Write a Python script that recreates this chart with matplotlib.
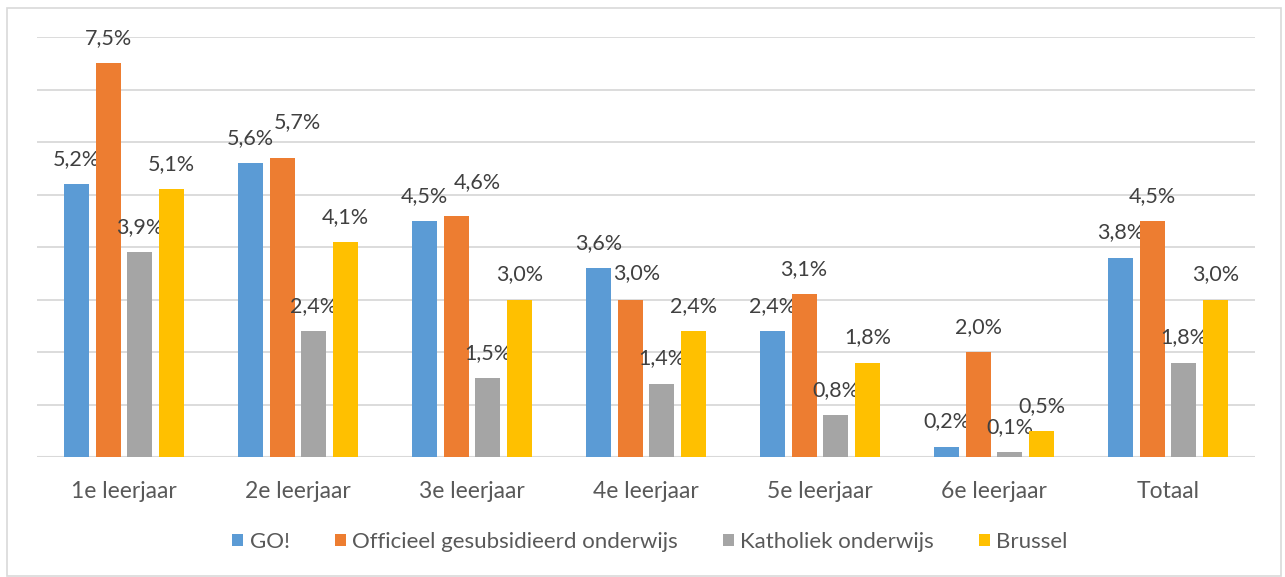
import matplotlib
matplotlib.use('Agg')
import matplotlib.pyplot as plt
import matplotlib.patches as patches
import numpy as np

categories = ['1e leerjaar', '2e leerjaar', '3e leerjaar', '4e leerjaar',
              '5e leerjaar', '6e leerjaar', 'Totaal']
series_names = ['GO!', 'Officieel gesubsidieerd onderwijs',
                'Katholiek onderwijs', 'Brussel']
go_vals = [5.2, 5.6, 4.5, 3.6, 2.4, 0.2, 3.8]
ogo_vals = [7.5, 5.7, 4.6, 3.0, 3.1, 2.0, 4.5]
kath_vals = [3.9, 2.4, 1.5, 1.4, 0.8, 0.1, 1.8]
brussel_vals = [5.1, 4.1, 3.0, 2.4, 1.8, 0.5, 3.0]
colors = ['#5b9bd5', '#ed7d31', '#a5a5a5', '#ffc000']

# labels Excel nudged aside to avoid overlap: (category, series) -> (dx, dy) in points
label_nudge = {(1, 1): (11, 26), (2, 1): (15, 24), (3, 1): (5, 19)}


def main():
    plt.rcParams['font.family'] = ['Lato', 'DejaVu Sans']
    fig = plt.figure(figsize=(12.85, 5.77), dpi=100)
    ax = fig.add_axes([37 / 1285, 120 / 577, 1218 / 1285, 420 / 577])

    all_vals = [go_vals, ogo_vals, kath_vals, brussel_vals]
    x = np.arange(len(categories))
    step = 0.182
    width = 0.144
    for i, (vals, name, col) in enumerate(zip(all_vals, series_names, colors)):
        pos = x + (i - 1.5) * step
        ax.bar(pos, vals, width, color=col, label=name, zorder=3)
        for j, (p, v) in enumerate(zip(pos, vals)):
            dx, dy = label_nudge.get((j, i), (0, 18))
            ax.annotate(('%.1f%%' % v).replace('.', ','), (p, v),
                        xytext=(dx, dy), textcoords='offset points',
                        ha='center', va='center', fontsize=15.5, color='#404040')

    ax.set_xlim(-0.5, len(categories) - 0.5)
    ax.set_ylim(0, 8)
    ax.set_yticks(np.arange(0, 9, 1))
    ax.set_yticklabels([])
    ax.set_xticks(x)
    ax.set_xticklabels(categories, fontsize=16.5, color='#595959')
    ax.tick_params(length=0, pad=17)
    ax.grid(axis='y', color='#d9d9d9', linewidth=1.3, zorder=0)
    for s in ax.spines.values():
        s.set_visible(False)
    ax.axhline(0, color='#d9d9d9', linewidth=1.5, zorder=2)

    fig.legend(loc='center', bbox_to_anchor=(650 / 1285, 1 - 542 / 577), ncol=4,
               frameon=False, fontsize=16, labelcolor='#595959',
               handlelength=0.5, handleheight=0.5, handletextpad=0.3,
               columnspacing=2.0)

    fig.patches.append(patches.Rectangle((7 / 1285, 1 / 577), 1274 / 1285, 568 / 577,
                                         transform=fig.transFigure, fill=False,
                                         edgecolor='#d9d9d9', linewidth=1.2))
    plt.savefig('out.png', dpi=100)


if __name__ == '__main__':
    main()
